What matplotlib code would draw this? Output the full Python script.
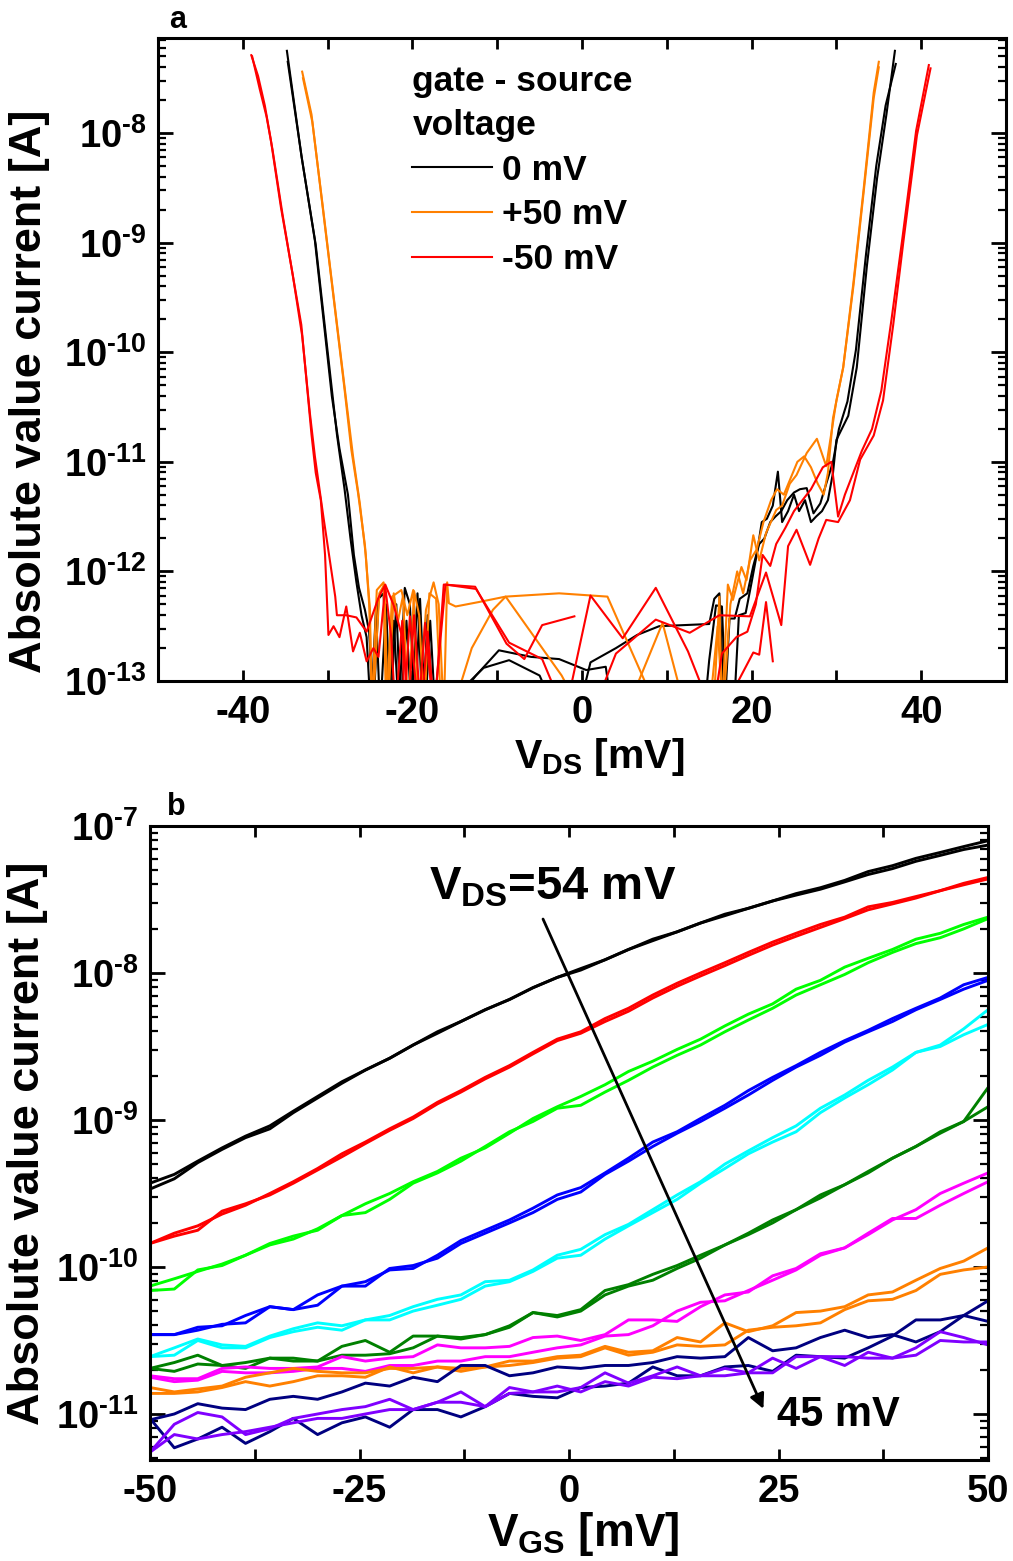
import numpy as np
import matplotlib.pyplot as plt
from matplotlib.ticker import LogLocator, MultipleLocator, NullFormatter, FuncFormatter

plt.rcParams['font.family'] = ['Liberation Sans', 'DejaVu Sans']
plt.rcParams['font.weight'] = 'bold'
plt.rcParams['axes.labelweight'] = 'bold'
plt.rcParams['axes.unicode_minus'] = False
plt.rcParams['mathtext.fontset'] = 'custom'
plt.rcParams['mathtext.rm'] = 'Liberation Sans:bold'
plt.rcParams['mathtext.it'] = 'Liberation Sans:bold'
plt.rcParams['mathtext.bf'] = 'Liberation Sans:bold'
plt.rcParams['axes.linewidth'] = 2.2

# ---- panel a: |I| vs V_DS, log10 of current, two or more sweeps per gate voltage
vds_0mv_a = [-34.8, -33.1, -31.5, -29.5, -28.6, -27.6, -26.9, -26.3, -25.6, -25.1, -24.6, -24.0, -23.4, -22.8,
             -22.2, -21.6, -20.9, -20.3, -19.7, -19.1, -18.5, -17.9, -17.3, -16.1, -12.5, -9.8, -6.0, -2.7, 0.5,
             2.8, 3.6, 14.4, 15.0, 15.8, 16.5, 17.0, 17.9, 18.5, 19.3, 20.0, 20.6, 21.2, 21.8, 22.5, 23.1, 23.6,
             24.3, 25.0, 25.6, 26.3, 27.0, 27.6, 28.3, 29.0, 29.6, 30.0, 31.4, 32.4, 33.6, 34.8, 35.9, 36.9]
logi_0mv_a = [-7.25, -8.20, -8.98, -10.40, -10.88, -11.30, -11.85, -12.15, -12.35, -12.55, -13.3, -12.25, -12.20,
              -13.3, -12.45, -13.3, -12.15, -12.30, -13.3, -12.25, -13.3, -12.45, -13.3, -13.3, -12.95, -12.72,
              -12.78, -12.80, -12.90, -12.87, -13.3, -13.3, -12.81, -12.31, -12.32, -13.3, -13.3, -12.40, -12.38,
              -12.10, -11.85, -11.55, -11.52, -11.40, -11.09, -11.55, -11.45, -11.30, -11.45, -11.35, -11.55,
              -11.50, -11.45, -11.35, -11.10, -10.80, -10.58, -10.14, -9.21, -8.41, -7.83, -7.25]
vds_0mv_b = [-34.7, -33.0, -31.4, -29.7, -28.9, -28.0, -27.3, -26.6, -26.0, -25.4, -24.9, -24.3, -23.8, -23.1,
             -22.6, -21.9, -21.4, -20.7, -20.1, -19.4, -18.8, -18.2, -17.6, -15.5, -14.5, -11.6, -8.6, -5.0, -3.0,
             -0.5, 1.0, 4.0, 6.5, 9.1, 12.0, 15.0, 15.6, 16.2, 16.8, 17.4, 18.0, 18.6, 19.5, 20.2, 20.9, 21.5, 22.2,
             22.8, 23.5, 24.2, 25.0, 25.7, 26.5, 27.3, 28.1, 28.8, 29.6, 30.3, 31.3, 32.3, 33.5, 34.7, 35.8, 37.0]
logi_0mv_b = [-7.35, -8.25, -9.02, -10.20, -10.75, -11.25, -11.70, -12.10, -12.40, -12.60, -13.3, -12.35, -13.3,
              -12.30, -13.3, -12.30, -13.3, -12.45, -13.3, -12.20, -13.3, -12.40, -13.3, -13.3, -13.10, -12.88,
              -12.81, -12.95, -13.3, -13.3, -12.83, -12.70, -12.58, -12.50, -12.49, -12.48, -12.25, -12.20, -13.3,
              -12.43, -12.43, -12.25, -12.20, -11.95, -11.75, -11.70, -11.55, -11.50, -11.45, -11.35, -11.28,
              -11.25, -11.24, -11.47, -11.38, -11.20, -11.00, -10.70, -10.45, -9.98, -9.10, -8.30, -7.75, -7.37]

vds_p50_a = [-33.0, -31.9, -30.7, -29.5, -28.0, -27.2, -26.4, -25.6, -25.0, -24.8, -24.2, -23.4, -23.1, -22.4,
             -21.3, -20.6, -19.9, -19.3, -18.4, -17.5, -16.9, -16.3, -15.9, -15.7, -14.9, -12.2, -9.0, -2.7, 3.0,
             9.1, 14.0, 15.5, 16.2, 16.5, 17.2, 17.8, 18.8, 19.4, 20.2, 20.9, 21.7, 22.9, 23.6, 24.5, 25.3, 26.5,
             27.7, 28.8, 30.0, 30.8, 32.0, 33.2, 34.4, 35.0]
logi_p50_a = [-7.44, -7.83, -8.60, -9.37, -10.34, -10.89, -11.29, -11.76, -12.35, -13.3, -12.17, -12.10, -13.3,
              -12.23, -12.17, -12.40, -12.17, -13.3, -12.35, -12.10, -12.30, -13.3, -12.10, -12.29, -12.32, -12.28,
              -12.23, -12.20, -12.23, -13.3, -13.3, -13.3, -12.23, -13.3, -12.12, -12.26, -11.96, -12.08, -11.67,
              -11.90, -11.65, -11.44, -11.40, -11.20, -11.12, -10.92, -10.79, -11.04, -10.44, -10.14, -9.37, -8.52,
              -7.63, -7.35]
vds_p50_b = [-32.9, -31.8, -30.6, -29.4, -27.9, -27.0, -26.2, -25.5, -25.1, -24.7, -23.9, -23.3, -22.9, -22.2,
             -21.7, -21.1, -20.5, -19.8, -19.2, -18.6, -18.0, -17.2, -16.6, -15.4, -13.0, -10.5, -9.0, -2.4, 0.0,
             5.1, 9.5, 12.3, 15.0, 16.0, 16.6, 17.5, 18.3, 19.0, 19.8, 20.6, 21.4, 22.3, 23.0, 23.8, 24.6, 25.4,
             26.2, 27.0, 27.8, 28.5, 29.0, 29.6, 30.8, 32.0, 33.2, 34.4, 35.0]
logi_p50_b = [-7.50, -7.90, -8.65, -9.42, -10.38, -10.95, -11.38, -11.85, -12.30, -13.3, -12.20, -12.12, -13.3,
              -12.20, -12.45, -12.22, -13.3, -12.18, -12.40, -13.3, -12.20, -12.25, -13.3, -13.3, -12.70, -12.35,
              -12.23, -12.95, -13.3, -13.3, -12.47, -13.3, -13.3, -12.50, -13.3, -12.30, -12.00, -12.20, -11.90,
              -11.80, -11.55, -11.35, -11.25, -11.30, -11.15, -11.00, -10.95, -11.05, -11.20, -11.30, -11.10,
              -10.60, -10.14, -9.40, -8.55, -7.68, -7.40]

vds_m50_a = [-39.0, -38.2, -37.4, -36.7, -35.5, -34.3, -33.1, -31.9, -31.4, -30.8, -30.3, -29.9, -29.3, -28.6,
             -27.8, -27.0, -26.2, -25.4, -24.6, -24.0, -23.2, -22.5, -22.0, -21.2, -20.5, -19.8, -19.0, -18.2,
             -17.4, -16.3, -12.6, -8.9, -6.8, -4.7, -0.9]
logi_m50_a = [-7.29, -7.48, -7.75, -8.06, -8.68, -9.21, -9.75, -10.75, -11.10, -11.35, -11.85, -12.58, -12.50,
              -12.60, -12.32, -12.73, -12.56, -12.82, -12.70, -12.78, -12.14, -12.60, -13.3, -12.45, -13.3, -12.40,
              -13.3, -12.55, -13.3, -12.12, -12.14, -12.66, -12.80, -12.49, -12.41]
vds_m50_b = [-38.9, -38.0, -37.2, -36.5, -35.3, -34.1, -33.0, -32.1, -31.5, -30.5, -29.1, -28.9, -27.8, -26.6,
             -25.4, -24.0, -23.2, -22.2, -21.1, -21.0, -20.3, -19.3, -18.5, -17.5, -16.1, -12.5, -8.6, -4.7, -2.0,
             1.0, 4.8, 8.7, 12.5, 15.4]
logi_m50_b = [-7.30, -7.60, -7.85, -8.15, -8.75, -9.30, -9.85, -10.55, -10.95, -11.50, -12.23, -12.40, -12.40,
              -12.42, -12.55, -12.24, -12.12, -12.31, -12.63, -13.3, -12.41, -13.3, -12.47, -13.3, -12.12, -12.16,
              -12.65, -12.80, -13.3, -12.22, -12.61, -12.15, -12.73, -13.3]
vds_m50_c = [1.2, 4.0, 8.7, 12.7, 16.2, 19.8, 21.7, 23.5, 24.3, 25.3, 26.9, 27.9, 28.8, 30.2, 31.6, 32.8, 34.4,
             35.5, 36.7, 37.9, 39.5, 41.1]
logi_m50_c = [-13.3, -12.75, -12.44, -12.56, -12.40, -12.41, -12.01, -12.49, -11.77, -11.62, -11.94, -11.70,
              -11.53, -11.55, -11.35, -10.98, -10.76, -10.44, -9.75, -8.99, -8.02, -7.41]
vds_m50_d = [16.4, 20.2, 20.9, 21.7, 22.5]
logi_m50_d = [-13.3, -12.74, -12.76, -12.28, -12.82]
vds_m50_e = [15.4, 16.5, 18.2, 19.5, 20.5, 21.3, 22.2, 22.9, 24.0, 25.0, 26.0, 27.0, 28.4, 29.4, 30.2, 31.0,
             32.0, 33.0, 34.2, 35.3, 36.5, 37.8, 39.4, 40.9]
logi_m50_e = [-13.3, -12.75, -12.60, -12.55, -12.30, -11.85, -11.95, -11.75, -11.60, -11.45, -11.35, -11.25,
              -11.05, -11.00, -11.50, -11.30, -11.10, -10.90, -10.70, -10.35, -9.70, -8.95, -7.98, -7.38]

# ---- panel b: |I| vs V_GS for V_DS = 54 ... 45 mV, log10 of current, two sweeps each
vgs = [-50.0, -47.1, -44.3, -41.4, -38.6, -35.7, -32.9, -30.0, -27.1, -24.3, -21.4, -18.6, -15.7, -12.9,
       -10.0, -7.1, -4.3, -1.4, 1.4, 4.3, 7.1, 10.0, 12.9, 15.7, 18.6, 21.4, 24.3, 27.1, 30.0, 32.9, 35.7,
       38.6, 41.4, 44.3, 47.1, 50.0]

logi_54_a = [-9.43, -9.37, -9.28, -9.19, -9.11, -9.04, -8.94, -8.84, -8.74, -8.66, -8.58, -8.49, -8.40, -8.33,
             -8.25, -8.18, -8.10, -8.03, -7.98, -7.91, -7.84, -7.77, -7.72, -7.66, -7.60, -7.56, -7.51, -7.46,
             -7.42, -7.37, -7.31, -7.27, -7.22, -7.18, -7.14, -7.10]
logi_54_b = [-9.47, -9.40, -9.29, -9.20, -9.12, -9.06, -8.95, -8.85, -8.75, -8.66, -8.58, -8.49, -8.41, -8.33,
             -8.25, -8.18, -8.10, -8.03, -7.97, -7.91, -7.84, -7.78, -7.72, -7.66, -7.61, -7.56, -7.51, -7.47,
             -7.43, -7.38, -7.33, -7.29, -7.24, -7.20, -7.16, -7.13]
logi_53_a = [-9.84, -9.77, -9.72, -9.64, -9.58, -9.50, -9.42, -9.33, -9.23, -9.15, -9.06, -8.98, -8.88, -8.80,
             -8.71, -8.63, -8.54, -8.45, -8.40, -8.31, -8.24, -8.15, -8.07, -8.00, -7.93, -7.86, -7.79, -7.73,
             -7.67, -7.62, -7.55, -7.52, -7.48, -7.44, -7.39, -7.35]
logi_53_b = [-9.84, -9.79, -9.75, -9.62, -9.57, -9.51, -9.43, -9.34, -9.25, -9.16, -9.07, -8.99, -8.89, -8.81,
             -8.72, -8.64, -8.55, -8.46, -8.41, -8.33, -8.26, -8.17, -8.09, -8.02, -7.95, -7.88, -7.81, -7.75,
             -7.69, -7.63, -7.57, -7.53, -7.49, -7.44, -7.40, -7.36]
logi_52_a = [-10.13, -10.08, -10.03, -9.98, -9.92, -9.85, -9.81, -9.74, -9.65, -9.57, -9.50, -9.42, -9.35, -9.26,
             -9.19, -9.09, -8.99, -8.91, -8.84, -8.76, -8.67, -8.60, -8.52, -8.45, -8.36, -8.28, -8.21, -8.11,
             -8.05, -7.96, -7.90, -7.84, -7.77, -7.73, -7.67, -7.62]
logi_52_b = [-10.16, -10.15, -10.02, -9.99, -9.92, -9.84, -9.79, -9.75, -9.65, -9.63, -9.54, -9.43, -9.36, -9.28,
             -9.18, -9.08, -9.01, -8.92, -8.90, -8.81, -8.73, -8.64, -8.56, -8.49, -8.40, -8.32, -8.24, -8.15,
             -8.08, -8.01, -7.93, -7.86, -7.80, -7.76, -7.70, -7.63]
logi_51_a = [-10.46, -10.46, -10.41, -10.40, -10.33, -10.27, -10.29, -10.19, -10.13, -10.10, -10.02, -10.01,
             -9.92, -9.82, -9.75, -9.68, -9.60, -9.51, -9.46, -9.36, -9.26, -9.15, -9.08, -8.99, -8.90, -8.80,
             -8.71, -8.63, -8.54, -8.46, -8.39, -8.31, -8.24, -8.17, -8.08, -8.03]
logi_51_b = [-10.46, -10.46, -10.43, -10.39, -10.38, -10.27, -10.29, -10.26, -10.13, -10.13, -10.01, -9.99,
             -9.94, -9.84, -9.77, -9.70, -9.63, -9.54, -9.49, -9.37, -9.28, -9.18, -9.09, -9.01, -8.92, -8.83,
             -8.73, -8.64, -8.56, -8.47, -8.40, -8.33, -8.25, -8.18, -8.11, -8.05]
logi_50_a = [-10.61, -10.55, -10.49, -10.53, -10.54, -10.47, -10.42, -10.38, -10.40, -10.36, -10.33, -10.27,
             -10.22, -10.19, -10.10, -10.09, -10.02, -9.92, -9.88, -9.78, -9.71, -9.61, -9.51, -9.42, -9.30, -9.21,
             -9.12, -9.04, -8.92, -8.83, -8.73, -8.64, -8.54, -8.49, -8.38, -8.25]
logi_50_b = [-10.61, -10.60, -10.50, -10.55, -10.55, -10.48, -10.44, -10.41, -10.43, -10.36, -10.36, -10.30,
             -10.26, -10.22, -10.13, -10.10, -10.03, -9.94, -9.92, -9.81, -9.72, -9.63, -9.54, -9.43, -9.33, -9.23,
             -9.15, -9.08, -8.95, -8.85, -8.76, -8.66, -8.54, -8.50, -8.42, -8.35]
logi_49_a = [-10.69, -10.65, -10.60, -10.67, -10.65, -10.62, -10.62, -10.64, -10.54, -10.50, -10.58, -10.47,
             -10.47, -10.48, -10.46, -10.40, -10.31, -10.33, -10.29, -10.16, -10.12, -10.05, -9.99, -9.92, -9.85,
             -9.77, -9.68, -9.61, -9.51, -9.44, -9.35, -9.26, -9.18, -9.08, -9.01, -8.78]
logi_49_b = [-10.69, -10.71, -10.66, -10.67, -10.69, -10.62, -10.64, -10.64, -10.60, -10.60, -10.59, -10.55,
             -10.47, -10.49, -10.46, -10.41, -10.31, -10.34, -10.30, -10.19, -10.13, -10.09, -10.01, -9.94, -9.85,
             -9.78, -9.70, -9.61, -9.53, -9.44, -9.36, -9.26, -9.18, -9.09, -9.01, -8.91]
logi_48_a = [-10.74, -10.76, -10.76, -10.69, -10.68, -10.69, -10.69, -10.68, -10.61, -10.64, -10.62, -10.61,
             -10.53, -10.55, -10.55, -10.54, -10.48, -10.47, -10.50, -10.46, -10.36, -10.36, -10.37, -10.27,
             -10.19, -10.17, -10.06, -10.01, -9.91, -9.87, -9.78, -9.68, -9.61, -9.50, -9.43, -9.36]
logi_48_b = [-10.75, -10.78, -10.77, -10.71, -10.72, -10.72, -10.71, -10.69, -10.69, -10.71, -10.67, -10.67,
             -10.64, -10.64, -10.61, -10.61, -10.58, -10.55, -10.53, -10.47, -10.46, -10.40, -10.30, -10.24,
             -10.23, -10.16, -10.09, -10.02, -9.92, -9.87, -9.77, -9.67, -9.67, -9.58, -9.50, -9.42]
logi_47_a = [-10.82, -10.85, -10.83, -10.81, -10.75, -10.72, -10.69, -10.71, -10.72, -10.72, -10.69, -10.69,
             -10.68, -10.69, -10.68, -10.64, -10.64, -10.61, -10.60, -10.54, -10.58, -10.57, -10.48, -10.51,
             -10.38, -10.44, -10.40, -10.31, -10.30, -10.27, -10.19, -10.17, -10.09, -10.01, -9.96, -9.87]
logi_47_b = [-10.86, -10.86, -10.85, -10.82, -10.78, -10.81, -10.78, -10.74, -10.74, -10.75, -10.68, -10.72,
             -10.68, -10.71, -10.68, -10.67, -10.65, -10.62, -10.61, -10.55, -10.60, -10.58, -10.53, -10.54,
             -10.53, -10.43, -10.41, -10.40, -10.38, -10.29, -10.23, -10.22, -10.16, -10.05, -10.02, -10.00]
logi_46_a = [-11.04, -11.00, -10.93, -10.96, -10.97, -10.90, -10.88, -10.90, -10.85, -10.79, -10.81, -10.75,
             -10.78, -10.67, -10.67, -10.74, -10.72, -10.68, -10.69, -10.67, -10.67, -10.65, -10.61, -10.62,
             -10.61, -10.48, -10.57, -10.55, -10.48, -10.43, -10.48, -10.46, -10.51, -10.44, -10.33, -10.23]
logi_46_b = [-11.03, -11.23, -11.17, -11.09, -11.20, -11.12, -11.03, -11.14, -11.06, -11.02, -11.09, -10.97,
             -10.97, -11.02, -10.95, -10.86, -10.88, -10.89, -10.82, -10.81, -10.79, -10.68, -10.74, -10.74,
             -10.68, -10.67, -10.71, -10.60, -10.61, -10.62, -10.55, -10.47, -10.36, -10.36, -10.33, -10.37]
logi_45_a = [-11.26, -11.07, -10.99, -11.02, -11.14, -11.10, -11.03, -11.00, -10.97, -10.95, -10.90, -10.97,
             -10.92, -10.85, -10.95, -10.82, -10.85, -10.85, -10.82, -10.72, -10.79, -10.74, -10.68, -10.74,
             -10.69, -10.72, -10.62, -10.69, -10.61, -10.67, -10.58, -10.62, -10.55, -10.44, -10.48, -10.53]
logi_45_b = [-11.26, -11.14, -11.17, -11.14, -11.12, -11.09, -11.06, -11.03, -11.03, -11.00, -10.97, -10.97,
             -10.92, -10.92, -10.95, -10.86, -10.85, -10.81, -10.85, -10.78, -10.81, -10.75, -10.76, -10.74,
             -10.74, -10.72, -10.72, -10.61, -10.61, -10.61, -10.62, -10.62, -10.60, -10.50, -10.51, -10.51]


def decade_label(value, pos):
    # 10 with a raised exponent; \text keeps a short hyphen instead of a math minus
    exp = int(round(np.log10(value)))
    sign = r'\text{-}' if exp < 0 else ''
    return r'$10^{%s%d}$' % (sign, abs(exp))


def style_axis(ax, xmaj, xmin):
    ax.set_yscale('log')
    ax.xaxis.set_major_locator(MultipleLocator(xmaj))
    ax.xaxis.set_minor_locator(MultipleLocator(xmin))
    ax.yaxis.set_major_locator(LogLocator(base=10))
    ax.yaxis.set_major_formatter(FuncFormatter(decade_label))
    ax.yaxis.set_minor_locator(LogLocator(base=10, subs=np.arange(2, 10)))
    ax.yaxis.set_minor_formatter(NullFormatter())
    ax.tick_params(which='both', direction='in', top=True, right=True, labelsize=27.5, width=2.0)
    ax.tick_params(axis='y', which='major', length=11, pad=8)
    ax.tick_params(axis='y', which='minor', length=6, width=1.6)
    ax.tick_params(axis='x', which='both', length=8, pad=10)


fig = plt.figure(figsize=(10.13, 15.61), dpi=100)

# panel a
ax1 = fig.add_axes([158 / 1013, 1 - 681 / 1561, 848 / 1013, 643 / 1561])
lw_a = 1.5
ax1.plot(vds_0mv_a, 10 ** np.array(logi_0mv_a), color='black', lw=lw_a, label='0 mV')
ax1.plot(vds_0mv_b, 10 ** np.array(logi_0mv_b), color='black', lw=lw_a)
ax1.plot(vds_p50_a, 10 ** np.array(logi_p50_a), color='#ff8000', lw=lw_a, label='+50 mV')
ax1.plot(vds_p50_b, 10 ** np.array(logi_p50_b), color='#ff8000', lw=lw_a)
ax1.plot(vds_m50_a, 10 ** np.array(logi_m50_a), color='red', lw=lw_a, label='-50 mV')
ax1.plot(vds_m50_b, 10 ** np.array(logi_m50_b), color='red', lw=lw_a)
ax1.plot(vds_m50_c, 10 ** np.array(logi_m50_c), color='red', lw=lw_a)
ax1.plot(vds_m50_d, 10 ** np.array(logi_m50_d), color='red', lw=lw_a)
ax1.plot(vds_m50_e, 10 ** np.array(logi_m50_e), color='red', lw=lw_a)
style_axis(ax1, 20, 10)
ax1.set_xlim(-50, 50)
ax1.set_ylim(1e-13, 10 ** -7.133)
ax1.set_xlabel('$V_{DS}$ [mV]', fontsize=29.5)
ax1.set_ylabel('Absolute value current [A]', fontsize=32.5)
ax1.xaxis.set_label_coords(0.52, -0.086)
ax1.yaxis.set_label_coords(-0.127, 0.45)
leg = ax1.legend(title='gate - source\nvoltage', loc='upper left', bbox_to_anchor=(0.300, 0.958),
                 frameon=False, fontsize=25.5, title_fontsize=25.5, handlelength=2.25, handletextpad=0.28,
                 labelspacing=0.33, borderpad=0, borderaxespad=0, alignment='left')
leg.get_title().set_linespacing(1.42)
fig.text(178 / 1013, 1 - 28 / 1561, 'a', ha='center', va='baseline', fontsize=22)

# panel b
ax2 = fig.add_axes([150 / 1013, 1 - 1460 / 1561, 838 / 1013, 634 / 1561])
series_b = [
    (logi_54_a, logi_54_b, 'black'),
    (logi_53_a, logi_53_b, '#ff0000'),
    (logi_52_a, logi_52_b, '#00ff00'),
    (logi_51_a, logi_51_b, '#0000ff'),
    (logi_50_a, logi_50_b, '#00ffff'),
    (logi_49_a, logi_49_b, '#008000'),
    (logi_48_a, logi_48_b, '#ff00ff'),
    (logi_47_a, logi_47_b, '#ff8000'),
    (logi_46_a, logi_46_b, '#000080'),
    (logi_45_a, logi_45_b, '#8000ff'),
]
for sweep_a, sweep_b, col in series_b:
    ax2.plot(vgs, 10 ** np.array(sweep_a), color=col, lw=2.1)
    ax2.plot(vgs, 10 ** np.array(sweep_b), color=col, lw=2.1)
style_axis(ax2, 25, 12.5)
ax2.set_xlim(-50, 50)
ax2.set_ylim(10 ** -11.313, 1e-7)
ax2.set_xlabel('$V_{GS}$ [mV]', fontsize=33)
ax2.set_ylabel('Absolute value current [A]', fontsize=32.5)
ax2.xaxis.set_label_coords(0.517, -0.079)
ax2.yaxis.set_label_coords(-0.122, 0.5)
ax2.annotate('', xy=(23.2, 10 ** -10.965), xytext=(-3.1, 10 ** -7.633),
             arrowprops=dict(arrowstyle='-|>', color='black', lw=2, mutation_scale=22,
                             shrinkA=0, shrinkB=0))
ax2.text(-2.0, 10 ** -7.42, '$V_{DS}$=54 mV', ha='center', va='center', fontsize=34)
ax2.text(24.8, 10 ** -11.007, '45 mV', ha='left', va='center', fontsize=30)
fig.text(176 / 1013, 1 - 815 / 1561, 'b', ha='center', va='baseline', fontsize=22)

fig.savefig('out.png', dpi=100)
